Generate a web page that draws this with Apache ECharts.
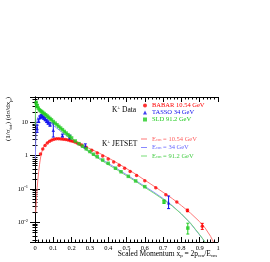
<!DOCTYPE html>
<html><head><meta charset="utf-8">
<script src="https://cdn.jsdelivr.net/npm/echarts@6/dist/echarts.min.js"></script>
<style>html,body{margin:0;padding:0;background:#fff}#c{width:270px;height:262px}</style>
</head><body><div id="c"></div>
<script>
// ---- data ----
const xTickLabels = ['0','0.1','0.2','0.3','0.4','0.5','0.6','0.7','0.8','0.9','1'];
const yTickLabels = ['10^-2','10^-1','1','10'];

const babarX = [0.03,0.0425,0.055,0.0675,0.08,0.0925,0.105,0.1175,0.13,0.1425,0.155,0.1675,0.18,0.1925,0.205,0.2175,0.23,0.2425,0.255,0.28,0.31,0.34,0.37,0.40,0.43,0.46,0.49,0.52,0.555,0.6,0.66,0.715,0.775,0.833,0.914];
const babarY = [1.12,1.58,2.0,2.38,2.68,2.92,3.08,3.18,3.2,3.17,3.1,3.02,2.92,2.8,2.68,2.55,2.4,2.25,2.1,1.78,1.46,1.2,0.98,0.8,0.65,0.52,0.42,0.335,0.255,0.178,0.11,0.068,0.041,0.023,0.0077];
const babarErr = [[0.833,0.021,0.025],[0.914,0.0062,0.0094]];

const tassoX = [0.012,0.02,0.027,0.034,0.041,0.048,0.056,0.064,0.072,0.082,0.1,0.15,0.19,0.275,0.73];
const tassoY = [6.5,11,14,15.5,14.8,13.6,12.3,11,9.8,8.6,5.8,4.0,3.5,1.95,0.039];
const tassoErr = [[0.012,5.0,8.2],[0.02,9.8,12.4],[0.027,12.6,15.6],[0.034,14.0,17.2],[0.041,13.3,16.4],[0.048,12.2,15.1],[0.056,11.0,13.7],[0.064,9.8,12.3],[0.072,8.7,11.0],[0.082,7.6,9.7],[0.1,3.6,9.5],[0.15,3.6,4.4],[0.19,3.0,4.1],[0.275,1.7,2.25],[0.73,0.026,0.062]];

const sldX = [0.006,0.012,0.018,0.024,0.03,0.036,0.042,0.05,0.058,0.066,0.074,0.082,0.09,0.1,0.11,0.12,0.13,0.14,0.15,0.16,0.17,0.18,0.19,0.2,0.22,0.24,0.26,0.28,0.3,0.32,0.34,0.37,0.4,0.44,0.47,0.51,0.55,0.6,0.705,0.835];
const sldY = [38,31,26.5,23.5,22,20.8,19.6,18.2,16.8,15.4,14.1,12.9,11.8,10.5,9.4,8.4,7.5,6.7,6.0,5.3,4.75,4.25,3.8,3.38,2.75,2.28,1.92,1.6,1.33,1.1,0.93,0.74,0.59,0.42,0.33,0.24,0.175,0.118,0.042,0.0068];
const sldErr = [[0.006,33,43],[0.012,27.5,34.5],[0.705,0.037,0.047],[0.835,0.0045,0.0095]];

const jetRedX = [0.004,0.008,0.012,0.016,0.02,0.025,0.03,0.035,0.04,0.05,0.06,0.07,0.08,0.09,0.1,0.11,0.12,0.13,0.14,0.15,0.16,0.18,0.2,0.22,0.25,0.3,0.35,0.4,0.45,0.5,0.55,0.6,0.65,0.7,0.75,0.8,0.85,0.9,0.93,0.96,0.975];
const jetRedY = [0.02,0.05,0.11,0.2,0.33,0.55,0.85,1.15,1.45,1.95,2.33,2.62,2.84,3.0,3.12,3.2,3.24,3.24,3.21,3.15,3.08,2.9,2.7,2.48,2.12,1.62,1.2,0.86,0.6,0.41,0.28,0.185,0.122,0.08,0.052,0.032,0.019,0.0105,0.0068,0.0038,0.0026];

const jetBlueX = [0.002,0.004,0.006,0.009,0.012,0.016,0.02,0.025,0.03,0.035,0.04,0.05,0.06,0.07,0.08,0.1,0.12,0.15,0.2,0.25,0.3,0.35,0.4,0.45,0.5,0.55,0.6,0.65,0.7,0.75,0.8,0.85,0.9,0.925];
const jetBlueY = [0.8,2.5,5.5,9,12,14.2,15.4,16,16,15.6,15,13.8,12.5,11.2,10.1,8.1,6.6,4.9,3.0,1.92,1.28,0.86,0.59,0.4,0.27,0.18,0.12,0.08,0.052,0.032,0.018,0.0093,0.0042,0.0028];

const jetGreenX = [0.001,0.003,0.005,0.008,0.012,0.016,0.02,0.025,0.03,0.04,0.05,0.06,0.08,0.1,0.12,0.15,0.2,0.25,0.3,0.35,0.4,0.45,0.5,0.55,0.6,0.65,0.7,0.75,0.8,0.85,0.9,0.93];
const jetGreenY = [8,25,33,34,32,29,27,25,23.5,20.8,18.5,16.5,13.2,10.6,8.5,6.1,3.4,2.0,1.22,0.8,0.54,0.37,0.25,0.17,0.112,0.075,0.049,0.031,0.018,0.0095,0.0043,0.0026];

const dataNames = ['BABAR 10.54 GeV','TASSO 34 GeV','SLD 91.2 GeV'];
const lineNames = ['E_cm = 10.54 GeV','E_cm = 34 GeV','E_cm = 91.2 GeV'];

// ---- styling ----
const FONT = 'Liberation Serif, Times New Roman, serif';
const RED = '#ff0000', BLUE = '#1010ee', GREEN = '#22cc22';
const LRED = '#ff7777', LBLUE = '#8888ff', LGREEN = '#77dd77';
const zip = (a, b) => a.map((v, i) => [v, b[i]]);
const yMin = 0.0026, yMax = 57;

function errSeries(name, arr, color) {
  return {
    type: 'custom', name: name + ' err', data: arr, encode: {x: 0, y: [1, 2]},
    silent: true, z: 3, clip: true,
    renderItem: (params, api) => {
      const x = api.value(0), lo = api.value(1), hi = api.value(2);
      const p1 = api.coord([x, hi]), p2 = api.coord([x, lo]);
      const w = 1.5, st = {stroke: color, lineWidth: 1};
      return {type: 'group', children: [
        {type: 'line', shape: {x1: p1[0], y1: p1[1], x2: p2[0], y2: p2[1]}, style: st},
        {type: 'line', shape: {x1: p1[0] - w, y1: p1[1], x2: p1[0] + w, y2: p1[1]}, style: st},
        {type: 'line', shape: {x1: p2[0] - w, y1: p2[1], x2: p2[0] + w, y2: p2[1]}, style: st}
      ]};
    }
  };
}

const axLine = {show: true, lineStyle: {color: '#000', width: 1}};
const axTick = {show: true, inside: true, length: 5, lineStyle: {color: '#000', width: 1}};

const ylab = v => {
  const e = Math.round(Math.log10(v));
  const s = yTickLabels[e + 2] || '';
  if (s.indexOf('^') >= 0) { const p = s.split('^'); return '{b|' + p[0] + '}{s|' + p[1] + '}'; }
  return '{b|' + s + '}';
};

const lineColorMap = {};
lineColorMap[lineNames[0]] = 'r'; lineColorMap[lineNames[1]] = 'bl'; lineColorMap[lineNames[2]] = 'g';
const rLeg = {};
[['r', '#ff6060'], ['bl', '#6666ff'], ['g', '#44cc44']].forEach(([k, c]) => {
  rLeg[k] = {fontSize: 6.5, fontFamily: FONT, color: c, lineHeight: 6};
  rLeg[k + 's'] = {fontSize: 4.5, fontFamily: FONT, color: c, lineHeight: 6, verticalAlign: 'bottom', padding: [3, 0, 0, 0]};
});

const txtRich = {n: {fontSize: 7.5, fontFamily: FONT, fill: '#000', lineHeight: 9},
                 s: {fontSize: 5, fontFamily: FONT, fill: '#000', lineHeight: 9, verticalAlign: 'bottom', padding: [4, 0, 0, 0]},
                 u: {fontSize: 5, fontFamily: FONT, fill: '#000', lineHeight: 9, verticalAlign: 'top'}};

const chart = echarts.init(document.getElementById('c'), null, {renderer: 'canvas'});
chart.setOption({
  animation: false,
  backgroundColor: '#fff',
  grid: {left: 35, right: 52, top: 97, bottom: 20, containLabel: false, outerBoundsMode: 'none'},
  xAxis: [
    {type: 'value', min: 0, max: 1, interval: 0.1, position: 'bottom',
      axisLine: axLine, axisTick: axTick, splitLine: {show: false},
      minorTick: {show: true, splitNumber: 5, length: 2.5, lineStyle: {color: '#000'}},
      axisLabel: {fontFamily: FONT, fontSize: 6.5, color: '#000', margin: 3,
        formatter: v => xTickLabels[Math.round(v * 10)]}},
    {type: 'value', min: 0, max: 1, interval: 0.1, position: 'top',
      axisLine: axLine, axisTick: axTick, splitLine: {show: false},
      minorTick: {show: true, splitNumber: 5, length: 2.5, lineStyle: {color: '#000'}},
      axisLabel: {show: false}}
  ],
  yAxis: [
    {type: 'log', min: yMin, max: yMax, logBase: 10, position: 'left',
      axisLine: axLine, axisTick: axTick, splitLine: {show: false},
      minorTick: {show: true, splitNumber: 9, length: 2.5, lineStyle: {color: '#000'}},
      axisLabel: {showMinLabel: false, showMaxLabel: false, margin: 7, formatter: ylab,
        rich: {b: {fontFamily: FONT, fontSize: 6.5, color: '#000', lineHeight: 9},
               s: {fontFamily: FONT, fontSize: 4.5, color: '#000', lineHeight: 9, verticalAlign: 'top'}}}},
    {type: 'log', min: yMin, max: yMax, logBase: 10, position: 'right',
      axisLine: axLine, axisTick: axTick, splitLine: {show: false},
      minorTick: {show: true, splitNumber: 9, length: 2.5, lineStyle: {color: '#000'}},
      axisLabel: {show: false}}
  ],
  legend: [
    {orient: 'vertical', left: 143, top: 102, itemWidth: 4, itemHeight: 4, itemGap: 0,
      selectedMode: false, padding: 0,
      textStyle: {fontFamily: FONT, fontSize: 6.5, lineHeight: 6},
      data: [
        {name: dataNames[0], textStyle: {color: RED}},
        {name: dataNames[1], textStyle: {color: BLUE}},
        {name: dataNames[2], textStyle: {color: GREEN}}
      ]},
    {orient: 'vertical', left: 141, top: 134, itemWidth: 6, itemHeight: 1, itemGap: 0,
      selectedMode: false, padding: 0,
      textStyle: {fontFamily: FONT, fontSize: 6.5, lineHeight: 5.5, rich: rLeg},
      formatter: name => {
        const k = lineColorMap[name];
        const rest = name.replace('E_cm', '');
        return '{' + k + '|E}{' + k + 's|cm}{' + k + '|' + rest + '}';
      },
      data: [
        {name: lineNames[0], icon: 'rect', itemStyle: {color: LRED}},
        {name: lineNames[1], icon: 'rect', itemStyle: {color: LBLUE}},
        {name: lineNames[2], icon: 'rect', itemStyle: {color: LGREEN}}
      ]}
  ],
  graphic: [
    {type: 'text', x: 8.5, y: 97, rotation: Math.PI / 2, silent: true,
      style: {text: '{n|(1/σ}{s|tot}{n|) (dσ/dx}{s|p}{n|)}', align: 'right', verticalAlign: 'middle',
        fill: '#000',
        rich: {n: {fontSize: 7, fontFamily: FONT, fill: '#000', lineHeight: 9},
               s: {fontSize: 4.8, fontFamily: FONT, fill: '#000', lineHeight: 9, verticalAlign: 'bottom', padding: [3, 0, 0, 0]}}}},
    {type: 'text', x: 217, y: 254, silent: true,
      style: {text: '{n|Scaled Momentum x}{s|p}{n| = 2p}{s|cm}{n|/E}{s|cm}', align: 'right', verticalAlign: 'middle',
        fill: '#000', rich: txtRich}},
    {type: 'text', x: 112, y: 110, silent: true,
      style: {text: '{n|K}{u|±}{n| Data}', verticalAlign: 'middle', fill: '#000', rich: txtRich}},
    {type: 'text', x: 102, y: 144, silent: true,
      style: {text: '{n|K}{u|±}{n| JETSET}', verticalAlign: 'middle', fill: '#000', rich: txtRich}}
  ],
  series: [
    {type: 'line', name: lineNames[0], data: zip(jetRedX, jetRedY), symbol: 'none',
      lineStyle: {color: LRED, width: 1}, itemStyle: {color: LRED}, z: 1, silent: true},
    {type: 'line', name: lineNames[1], data: zip(jetBlueX, jetBlueY), symbol: 'none',
      lineStyle: {color: LBLUE, width: 1}, itemStyle: {color: LBLUE}, z: 1, silent: true},
    {type: 'line', name: lineNames[2], data: zip(jetGreenX, jetGreenY), symbol: 'none',
      lineStyle: {color: LGREEN, width: 1}, itemStyle: {color: LGREEN}, z: 1, silent: true},
    errSeries('babar', babarErr, RED),
    errSeries('tasso', tassoErr, BLUE),
    errSeries('sld', sldErr, GREEN),
    {type: 'scatter', name: dataNames[0], data: zip(babarX, babarY), symbol: 'circle', symbolSize: 3.5,
      itemStyle: {color: RED}, z: 4, silent: true},
    {type: 'scatter', name: dataNames[1], data: zip(tassoX, tassoY), symbol: 'triangle', symbolSize: 3.5,
      itemStyle: {color: BLUE}, z: 4, silent: true},
    {type: 'scatter', name: dataNames[2], data: zip(sldX, sldY), symbol: 'rect', symbolSize: 3.5,
      itemStyle: {color: GREEN}, z: 4, silent: true}
  ]
});
</script></body></html>
